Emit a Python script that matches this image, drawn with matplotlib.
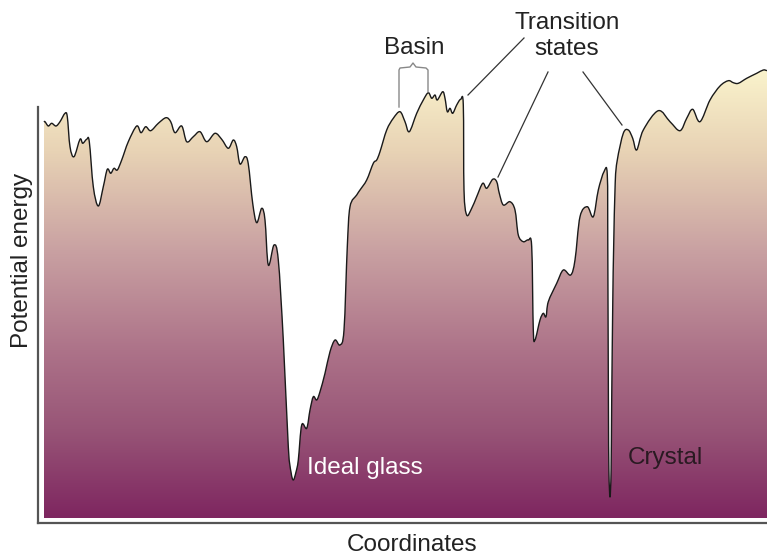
import numpy as np
import matplotlib
matplotlib.use("Agg")
import matplotlib.pyplot as plt
from matplotlib.colors import LinearSegmentedColormap
from matplotlib.patches import PathPatch
from matplotlib.path import Path

plt.rcParams['font.family'] = ['Liberation Sans', 'DejaVu Sans']

# Energy landscape (coordinate, potential energy)
coordinate = [6, 7, 10.3, 13.7, 18, 22, 27, 29.3, 32, 36, 42, 44.7, 48.7, 51.3, 55.3, 60.3,
              65.3, 69.3, 72.7, 76, 79.3, 83.7, 90.3, 98.7, 103, 107.7, 112.7, 120.3, 128,
              132.7, 137, 143.7, 148.7, 155.3, 162, 168.7, 177, 183.7, 190.3, 195.3, 198.7,
              202, 207, 210.3, 214.7, 218.7, 223.7, 227, 230.3, 236, 240.3, 245.3, 250.3,
              253, 255.3, 258, 260.3, 263.7, 268.7, 272, 275.3, 278.7, 282, 287, 292, 297,
              302, 306, 309.3, 312, 318.7, 322, 328.7, 335.3, 338.7, 342, 348.7, 355.3, 362,
              367, 371.3, 378.7, 385.3, 390.3, 393.7, 397, 399.3, 404.7, 407, 409.3, 412,
              414.7, 418.7, 422.7, 425.3, 426, 428.7, 433.7, 438.7, 444.7, 448.7, 454.7,
              458.7, 461.3, 465.3, 472, 477, 480.3, 485.3, 490.3, 493.7, 495.3, 497, 502,
              505.3, 508, 510.3, 518.7, 525.3, 532.7, 537, 542, 549.3, 555.3, 560.3, 566,
              569.3, 569.8, 570.4, 570.9, 572, 573.1, 573.7, 574.8, 575.6, 577.2, 579.3,
              585.3, 590.3, 594.7, 598.7, 605.3, 620.3, 632, 642, 648.7, 654.7, 662, 672,
              682, 690.3, 695.3, 700.3, 708.7, 718.7, 725.3, 729]
energy = [401, 401.3, 397, 399.7, 397, 401.3, 409.7, 406.3, 376.3, 366.3, 383.7, 379.7, 383.7,
          381.3, 336.3, 317, 336.3, 353.7, 349.7, 354.7, 353, 363, 381.3, 397, 390.3, 396.3,
          392.3, 399.7, 405.3, 401.3, 390.3, 397, 381.3, 386.3, 391.3, 381.3, 389.7, 383.7,
          374.7, 383, 376.3, 359, 366.3, 359, 319.7, 300.3, 314.7, 303, 258, 278, 263, 183,
          76.3, 51, 43, 51, 63, 98, 94.7, 113, 126.3, 123, 131.3, 149.7, 171.3, 183, 178,
          193, 276.3, 316.3, 328, 333, 343, 359.7, 363, 371.3, 393, 404.7, 411.3, 401.3,
          391.3, 409.7, 423, 430.3, 424.7, 428, 423, 431.3, 424.7, 411.3, 414.7, 409.7, 418,
          423.7, 418, 333, 308, 314.7, 326.3, 339.7, 334.7, 343.7, 341.3, 329.7, 318, 321.3,
          313, 288, 281.3, 283, 276.3, 193, 183, 203, 209.7, 206.3, 221.3, 239.7, 253, 248,
          263, 306.3, 316.3, 306.3, 333, 351.3, 348, 273, 123, 53, 26, 53, 123, 223, 273,
          340, 363, 389.7, 393, 384.7, 373, 393, 412.3, 401.3, 392.3, 404.7, 413.7, 401.3,
          423, 437, 442.3, 440.3, 439.7, 444.7, 449.7, 453, 452.3]

floor_energy = 5
x_max, y_max = 729, 463
axis_top = 416

# gradient colours (bottom -> top)
grad_colors = ["#7E2660", "#985577", "#AD7389", "#C9A1A2", "#E8D3B5", "#FAF3CC"]
grad_pos = [0.0, 0.197, 0.375, 0.598, 0.821, 1.0]


def smooth_path(xs, ys):
    """Catmull-Rom curve through the read points, drawn as cubic Bezier segments."""
    p = np.column_stack([xs, ys]).astype(float)
    n = len(p)
    verts = [p[0]]
    codes = [Path.MOVETO]
    for i in range(n - 1):
        p0 = p[i - 1] if i > 0 else p[i]
        p1 = p[i]
        p2 = p[i + 1]
        p3 = p[i + 2] if i + 2 < n else p[i + 1]
        c1 = p1 + (p2 - p0) / 6.0
        c2 = p2 - (p3 - p1) / 6.0
        verts += [c1, c2, p2]
        codes += [Path.CURVE4] * 3
    return verts, codes


fig = plt.figure(figsize=(7.67, 5.57), dpi=100)
ax = fig.add_axes([38 / 767, 34 / 557, 729 / 767, 463 / 557])
ax.set_xlim(0, x_max)
ax.set_ylim(0, y_max)

cmap = LinearSegmentedColormap.from_list("land", list(zip(grad_pos, grad_colors)))
cverts, ccodes = smooth_path(coordinate, energy)
fverts = cverts + [(coordinate[-1], floor_energy), (coordinate[0], floor_energy), cverts[0]]
fcodes = ccodes + [Path.LINETO, Path.LINETO, Path.CLOSEPOLY]
fill_patch = PathPatch(Path(fverts, fcodes), facecolor='none', edgecolor='none')
ax.add_patch(fill_patch)
grad = np.linspace(0, 1, 512).reshape(-1, 1)
im = ax.imshow(grad, cmap=cmap, origin='lower', aspect='auto',
               extent=[coordinate[0], coordinate[-1], floor_energy, max(energy)],
               interpolation='bilinear', zorder=1)
im.set_clip_path(fill_patch)
ax.add_patch(PathPatch(Path(cverts, ccodes), facecolor='none', edgecolor='#1a1a1a',
                       lw=1.0, zorder=3, joinstyle='round'))

for s in ['top', 'right']:
    ax.spines[s].set_visible(False)
ax.spines['left'].set_bounds(0, axis_top)
for s in ['left', 'bottom']:
    ax.spines[s].set_color('#555555')
    ax.spines[s].set_linewidth(1.6)
ax.set_xticks([])
ax.set_yticks([])
ax.patch.set_visible(False)

# Basin brace
bx = [361, 361, 362, 372, 375, 378, 388, 390, 390]
by = [416, 453, 455, 456, 460, 456, 455, 453, 431]
ax.plot(bx, by, color='#888888', lw=1.0, clip_on=False, zorder=4)
ax.text(376, 475, "Basin", ha='center', va='center', fontsize=17.5, color='#222222', clip_on=False)

# Transition states
ax.text(529, 487, "Transition\nstates", ha='center', va='center', fontsize=17.5,
        color='#222222', linespacing=1.2, clip_on=False)
for (x0, y0, x1, y1) in [(430, 428, 486, 485), (460, 346, 510, 451), (584, 398, 545, 451)]:
    ax.plot([x0, x1], [y0, y1], color='#333333', lw=0.9, clip_on=False, zorder=4)

ax.text(327, 55, "Ideal glass", ha='center', va='center', fontsize=17.5, color='white', zorder=5)
ax.text(627, 65, "Crystal", ha='center', va='center', fontsize=17.5, color='#2a1a22', zorder=5)

fig.text(22 / 767, 1 - 260 / 557, "Potential energy", rotation=90, ha='center', va='center',
         fontsize=17.5, color='#222222')
fig.text(412 / 767, 1 - 545 / 557, "Coordinates", ha='center', va='center',
         fontsize=17.5, color='#222222')

fig.savefig("out.png", dpi=100)
